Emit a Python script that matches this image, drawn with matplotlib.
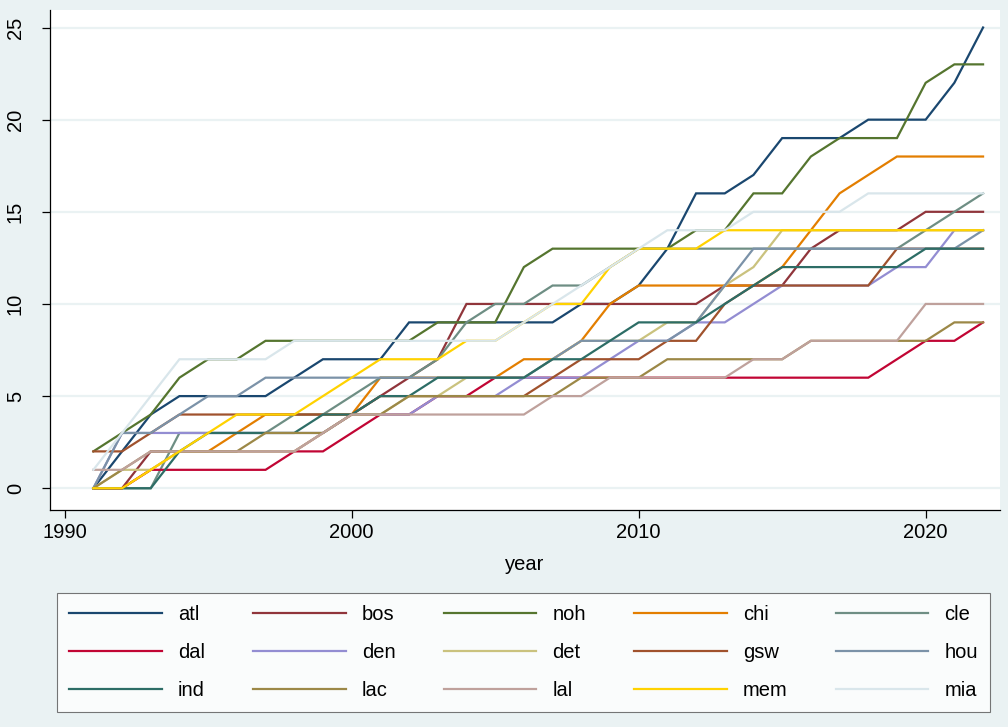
import matplotlib
matplotlib.use("Agg")
import matplotlib.pyplot as plt
import numpy as np

plt.rcParams['font.family'] = ['Liberation Sans', 'DejaVu Sans']

years = np.arange(1991, 2023)

# counts by team, 1991..2022
atl = [0, 2, 4, 5, 5, 5, 5, 6, 7, 7, 7, 9, 9, 9, 9, 9, 9, 10, 10, 11, 13, 16, 16, 17, 19, 19, 19, 20, 20, 20, 22, 25]
bos = [0, 0, 2, 2, 2, 2, 2, 2, 3, 4, 5, 6, 7, 10, 10, 10, 10, 10, 10, 10, 10, 10, 11, 11, 11, 13, 14, 14, 14, 15, 15, 15]
noh = [2, 3, 4, 6, 7, 7, 8, 8, 8, 8, 8, 8, 9, 9, 9, 12, 13, 13, 13, 13, 13, 14, 14, 16, 16, 18, 19, 19, 19, 22, 23, 23]
chi = [0, 0, 1, 2, 2, 3, 4, 4, 4, 4, 6, 6, 6, 6, 6, 7, 7, 8, 10, 11, 11, 11, 11, 11, 12, 14, 16, 17, 18, 18, 18, 18]
cle = [0, 0, 0, 3, 3, 3, 3, 4, 4, 5, 6, 6, 7, 9, 10, 10, 11, 11, 12, 13, 13, 13, 13, 13, 13, 13, 13, 13, 13, 14, 15, 16]
dal = [0, 0, 1, 1, 1, 1, 1, 2, 2, 3, 4, 4, 5, 5, 6, 6, 6, 6, 6, 6, 6, 6, 6, 6, 6, 6, 6, 6, 7, 8, 8, 9]
den = [0, 3, 3, 3, 3, 3, 3, 3, 3, 4, 4, 4, 5, 5, 5, 6, 6, 6, 7, 8, 8, 9, 9, 10, 11, 11, 11, 11, 12, 12, 14, 14]
det = [0, 1, 1, 2, 2, 2, 2, 2, 3, 4, 4, 5, 5, 6, 6, 6, 7, 8, 8, 8, 9, 9, 11, 12, 14, 14, 14, 14, 14, 14, 14, 14]
gsw = [2, 2, 3, 4, 4, 4, 4, 4, 4, 4, 5, 5, 5, 5, 5, 5, 6, 7, 7, 7, 8, 8, 10, 11, 11, 11, 11, 11, 13, 13, 13, 13]
hou = [0, 3, 3, 4, 5, 5, 6, 6, 6, 6, 6, 6, 6, 6, 6, 6, 7, 8, 8, 8, 8, 9, 11, 13, 13, 13, 13, 13, 13, 13, 13, 14]
ind = [0, 0, 0, 2, 3, 3, 3, 3, 4, 4, 5, 5, 6, 6, 6, 6, 7, 7, 8, 9, 9, 9, 10, 11, 12, 12, 12, 12, 12, 13, 13, 13]
lac = [0, 1, 2, 2, 2, 2, 3, 3, 3, 4, 4, 5, 5, 5, 5, 5, 5, 6, 6, 6, 7, 7, 7, 7, 7, 8, 8, 8, 8, 8, 9, 9]
lal = [1, 1, 2, 2, 2, 2, 2, 2, 3, 4, 4, 4, 4, 4, 4, 4, 5, 5, 6, 6, 6, 6, 6, 7, 7, 8, 8, 8, 8, 10, 10, 10]
mem = [0, 0, 1, 2, 3, 4, 4, 4, 5, 6, 7, 7, 7, 8, 8, 9, 10, 10, 12, 13, 13, 13, 14, 14, 14, 14, 14, 14, 14, 14, 14, 14]
mia = [1, 3, 5, 7, 7, 7, 7, 8, 8, 8, 8, 8, 8, 8, 8, 9, 10, 11, 12, 13, 14, 14, 14, 15, 15, 15, 15, 16, 16, 16, 16, 16]

teams = ['atl', 'bos', 'noh', 'chi', 'cle', 'dal', 'den', 'det',
         'gsw', 'hou', 'ind', 'lac', 'lal', 'mem', 'mia']
series = [atl, bos, noh, chi, cle, dal, den, det, gsw, hou, ind, lac, lal, mem, mia]

# Stata s2color palette
colors = ['#1a476f', '#90353b', '#55752f', '#e37e00', '#6e8e84',
          '#c10534', '#938dd2', '#cac27e', '#a0522d', '#7b92a8',
          '#2d6d66', '#9c8847', '#bfa19c', '#ffd200', '#d9e6eb']

bg = '#eaf2f3'

fig = plt.figure(figsize=(10.08, 7.27), dpi=100, facecolor=bg)
ax = fig.add_axes([50 / 1008, 1 - 510 / 727, 950 / 1008, 500 / 727])
ax.set_facecolor('white')

handles = []
for name, vals, c in zip(teams, series, colors):
    h, = ax.plot(years, vals, color=c, lw=1.6, label=name, solid_joinstyle='miter')
    handles.append(h)

ax.set_xlim(1989.49, 2022.59)
ax.set_ylim(-1.18, 25.95)
ax.set_xticks([1990, 2000, 2010, 2020])
ax.set_yticks([0, 5, 10, 15, 20, 25])
ax.grid(axis='y', color=bg, lw=1.6)
ax.set_axisbelow(True)

for s in ['top', 'right']:
    ax.spines[s].set_visible(False)
for s in ['left', 'bottom']:
    ax.spines[s].set_color('black')
    ax.spines[s].set_linewidth(0.9)

ax.tick_params(axis='both', labelsize=14.5, length=6, width=0.9, color='black')
ax.tick_params(axis='y', pad=12)
plt.setp(ax.get_yticklabels(), rotation=90, va='center')
ax.set_xlabel('year', fontsize=14.5, labelpad=9)

# legend filled row by row, like Stata
ncol = 5
nrow = 3
order = [r * ncol + c for c in range(ncol) for r in range(nrow)]
leg = fig.legend([handles[i] for i in order], [teams[i] for i in order],
                 loc='lower left', bbox_to_anchor=(57 / 1008, 1 - 712 / 727, 933 / 1008, 120 / 727),
                 ncol=ncol, mode='expand', fontsize=14.5, frameon=True, fancybox=False,
                 handlelength=4.6, handletextpad=0.8, labelspacing=0.95,
                 borderaxespad=0, borderpad=0.6)
leg.get_frame().set_edgecolor('#555555')
leg.get_frame().set_linewidth(0.8)
leg.get_frame().set_facecolor('white')

fig.savefig('out.png', dpi=100, facecolor=bg)
